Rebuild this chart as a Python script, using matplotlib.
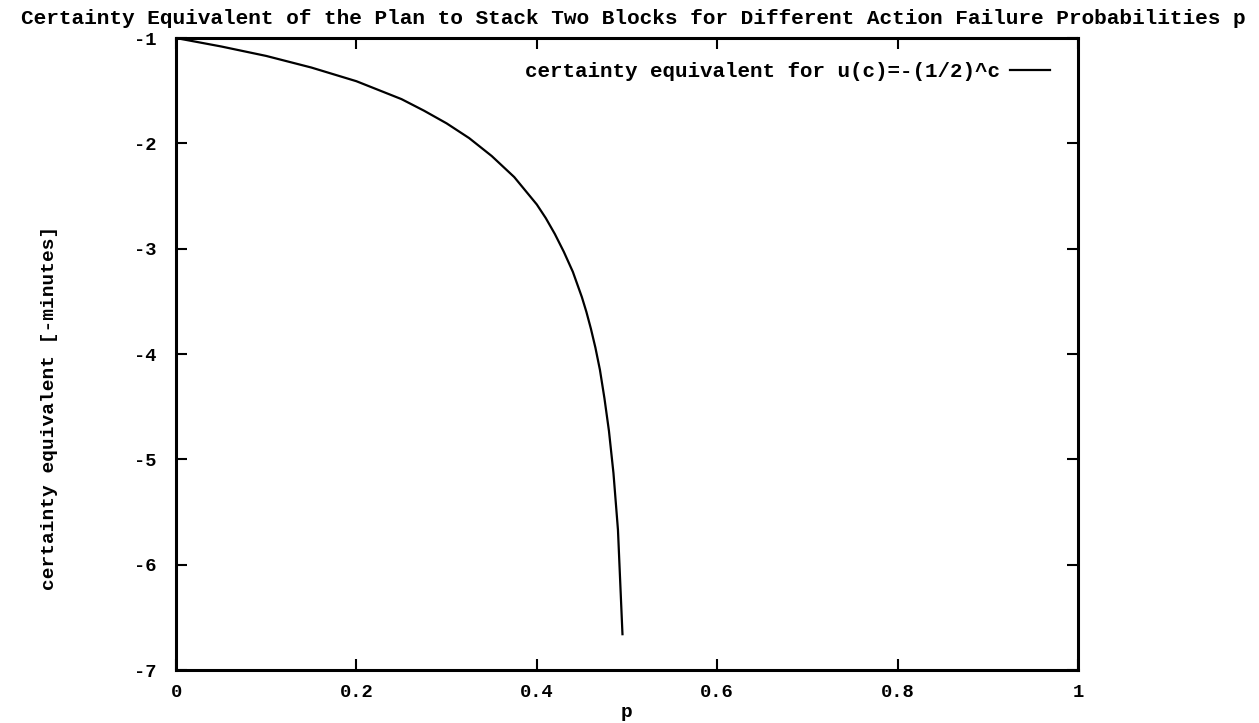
import numpy as np
import matplotlib.pyplot as plt

# values
p = [0.0, 0.05, 0.1, 0.15, 0.2, 0.25, 0.275, 0.3, 0.325, 0.35, 0.375, 0.4,
     0.41, 0.42, 0.43, 0.44, 0.45, 0.455, 0.46, 0.465, 0.47, 0.475, 0.48,
     0.485, 0.49, 0.495]
ce = [-1.00, -1.08, -1.17, -1.28, -1.41, -1.58, -1.69, -1.81, -1.95, -2.12,
      -2.32, -2.58, -2.71, -2.86, -3.03, -3.22, -3.46, -3.60, -3.76, -3.94,
      -4.15, -4.42, -4.73, -5.13, -5.67, -6.66]
xticks = [0, 0.2, 0.4, 0.6, 0.8, 1]
xticklabels = ['0', '0.2', '0.4', '0.6', '0.8', '1']
yticks = [-1, -2, -3, -4, -5, -6, -7]

title = 'Certainty Equivalent of the Plan to Stack Two Blocks for Different Action Failure Probabilities p'
label = 'certainty equivalent for u(c)=-(1/2)^c'

plt.rcParams['font.family'] = ['Liberation Mono', 'DejaVu Sans Mono']
plt.rcParams['font.weight'] = 'bold'
plt.rcParams['axes.unicode_minus'] = False

fig = plt.figure(figsize=(12.59, 7.23), dpi=100)
ax = fig.add_axes([0.1398, 0.0733, 0.7164, 0.8741])
ax.plot(p, ce, color='black', lw=1.6, label=label)
ax.set_xlim(0, 1)
ax.set_ylim(-7, -1)
ax.set_xticks(xticks)
ax.set_xticklabels(xticklabels)
ax.set_yticks(yticks)
ax.tick_params(direction='in', length=8, width=1.5, top=True, right=True,
               labelsize=13.5, pad=10)
ax.tick_params(axis='y', pad=14)
for s in ax.spines.values():
    s.set_linewidth(2.2)

fig.text(0.503, 0.975, title, ha='center', va='center', fontsize=15.2, fontweight='bold')
ax.set_xlabel('p', fontsize=14, fontweight='bold', labelpad=2)
ax.set_ylabel('certainty equivalent [-minutes]', fontsize=14, fontweight='bold')
ax.yaxis.set_label_coords(-0.131, 0.415)

leg = ax.legend(loc='upper right', frameon=False, markerfirst=False, fontsize=15,
                handlelength=1.9, handletextpad=0.5, borderaxespad=0.3,
                bbox_to_anchor=(0.985, 0.985))

fig.savefig('out.png', dpi=100)
